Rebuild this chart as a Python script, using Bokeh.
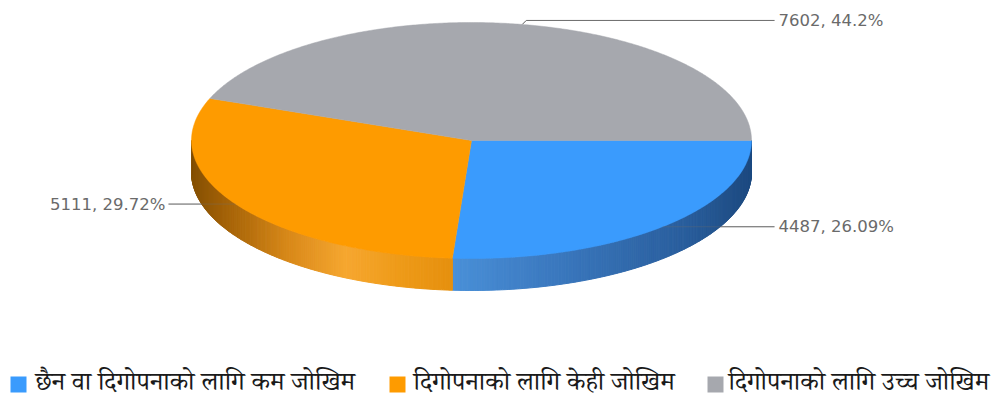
import math
from bokeh.plotting import figure
from bokeh.models import Range1d
from bokeh.core.properties import value
from bokeh.embed import file_html
from bokeh.resources import INLINE

# ---- data ----
categories = ["छैन वा दिगोपनाको लागि कम जोखिम", "दिगोपनाको लागि केही जोखिम", "दिगोपनाको लागि उच्च जोखिम"]
counts = [4487, 5111, 7602]
percent_labels = ["26.09%", "29.72%", "44.2%"]
colors = ["#3a9bfd", "#fe9b00", "#a6a8ae"]

# ---- geometry (styling) ----
W, H = 992, 401
cx, cy, rx, ry, depth = 471, 140, 280, 118, 32

p = figure(width=W, height=H, output_backend="svg", toolbar_location=None,
           x_range=Range1d(0, W), y_range=Range1d(H, 0),
           min_border=0, outline_line_color=None)
p.axis.visible = False
p.grid.visible = False
p.background_fill_color = "white"
p.border_fill_color = "white"


def pt(a_deg, r=1.0):
    a = math.radians(a_deg)
    return cx + rx * r * math.cos(a), cy + ry * r * math.sin(a)


def hex2rgb(h):
    h = h.lstrip("#")
    return [int(h[i:i + 2], 16) for i in (0, 2, 4)]


def interp(stops, x):
    if x <= stops[0][0]:
        return stops[0][1]
    for (x0, c0), (x1, c1) in zip(stops, stops[1:]):
        if x0 <= x <= x1:
            t = (x - x0) / (x1 - x0)
            a, b = hex2rgb(c0), hex2rgb(c1)
            return "#%02x%02x%02x" % tuple(int(round(a[i] + (b[i] - a[i]) * t)) for i in range(3))
    return stops[-1][1]


side_stops = [
    [(450, "#4a90d8"), (560, "#3a77bd"), (680, "#2a5f9e"), (750, "#1d4a80")],
    [(190, "#845004"), (225, "#a46207"), (290, "#da8a1a"), (345, "#f6a730"), (400, "#ee9a18"), (460, "#e48e0c")],
    [(190, "#7f8086"), (750, "#7f8086")],
]

total = sum(counts)
starts, ends = [], []
acc = 0.0
for c in counts:
    starts.append(acc / total * 360)
    acc += c
    ends.append(acc / total * 360)

# leader lines (behind the pie)
mids = [(s + e) / 2 for s, e in zip(starts, ends)]
label_text = ["%d, %s" % (c, pl) for c, pl in zip(counts, percent_labels)]
lx, ly = [], []
tx, ty, talign = [], [], []
for i, m in enumerate(mids):
    x0, y0 = pt(m)
    if i == 2:
        xs = [x0, x0 + 4, 774]
        ys = [y0, y0 - 4, y0 - 4]
        tx.append(778); ty.append(y0 - 4); talign.append("left")
    elif math.cos(math.radians(m)) >= 0:
        xs = [x0, 774]
        ys = [y0, y0]
        tx.append(778); ty.append(y0); talign.append("left")
    else:
        xs = [x0, 168]
        ys = [y0, y0]
        tx.append(165); ty.append(y0); talign.append("right")
    lx.append(xs); ly.append(ys)
p.multi_line(lx, ly, line_color="#707070", line_width=1)

# side walls (front half 0..180 deg)
sx, sy, sc = [], [], []
for i in range(len(counts)):
    a0, a1 = max(starts[i], 0), min(ends[i], 180)
    if a1 <= a0:
        continue
    n = max(2, int((a1 - a0) / 0.5))
    for k in range(n):
        b0 = a0 + (a1 - a0) * k / n
        b1 = a0 + (a1 - a0) * (k + 1) / n
        xa, ya = pt(b0)
        xb, yb = pt(b1)
        sx.append([xa, xb, xb, xa])
        sy.append([ya, yb, yb + depth, ya + depth])
        sc.append(interp(side_stops[i], (xa + xb) / 2))
p.patches(sx, sy, fill_color=sc, line_color=sc, line_width=1)

# top faces
for i in range(len(counts)):
    n = max(4, int((ends[i] - starts[i]) / 0.5))
    xs, ys = [cx], [cy]
    for k in range(n + 1):
        x, y = pt(starts[i] + (ends[i] - starts[i]) * k / n)
        xs.append(x); ys.append(y)
    p.patch(xs, ys, fill_color=colors[i], line_color=colors[i], line_width=0.5)

# faint leader lines over the pie
p.multi_line(lx, ly, line_color="#707070", line_width=1, line_alpha=0.35)

# data labels
for i in range(3):
    p.text([tx[i]], [ty[i]], text=[label_text[i]], text_align=talign[i], text_baseline="middle",
           text_font=value("DejaVu Sans"), text_font_size="16.5px", text_color="#6a6a6a")

# legend
leg_sq_x = [18, 397, 715]
leg_tx = [35, 413, 728]
leg_y = 385
p.rect(leg_sq_x, [384] * 3, width=16, height=16, width_units="screen", height_units="screen",
       fill_color=colors, line_color=None)
p.text(leg_tx, [leg_y] * 3, text=categories, text_align="left", text_baseline="middle",
       text_font=value("Noto Serif Devanagari, Noto Sans Devanagari, Lohit Devanagari, FreeSerif, serif"),
       text_font_size="26px", text_color="#1a1a1a")

open("out.html", "w").write(file_html(p, INLINE))
